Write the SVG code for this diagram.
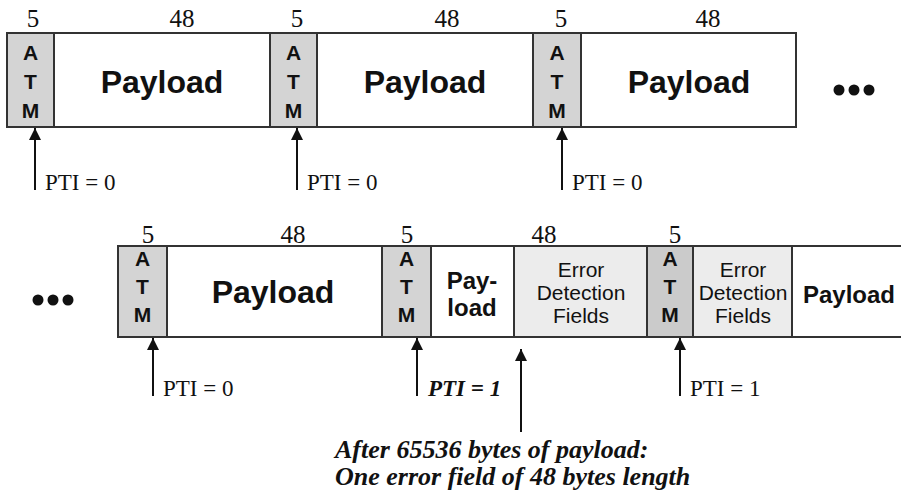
<svg xmlns="http://www.w3.org/2000/svg" width="901" height="491" viewBox="0 0 901 491">
  <defs>
    <marker id="head" viewBox="0 0 12 12" refX="12" refY="6" markerWidth="12" markerHeight="12" markerUnits="userSpaceOnUse" orient="auto">
      <path d="M0,0 L12,6 L0,12 Z" fill="#111"/>
    </marker>
    <style>
      .cell { stroke: #333; stroke-width: 2; }
      .atm { fill: #d4d4d4; }
      .atm2 { fill: #cbcbcb; }
      .pay { fill: #ffffff; }
      .err { fill: #ececec; }
      .num { font-family: "Liberation Serif", serif; font-size: 25px; fill: #111; text-anchor: middle; }
      .hdr { font-family: "Liberation Sans", Arial, sans-serif; font-weight: bold; font-size: 21px; fill: #111; text-anchor: middle; }
      .big { font-family: "Liberation Sans", Arial, sans-serif; font-weight: bold; font-size: 32px; fill: #111; text-anchor: middle; }
      .mid { font-family: "Liberation Sans", Arial, sans-serif; font-weight: bold; font-size: 24px; fill: #111; text-anchor: middle; }
      .efd { font-family: "Liberation Sans", Arial, sans-serif; font-size: 21px; fill: #111; text-anchor: middle; }
      .pti { font-family: "Liberation Serif", serif; font-size: 23px; fill: #111; }
      .ptib { font-family: "Liberation Serif", serif; font-size: 23px; font-weight: bold; font-style: italic; fill: #111; }
      .note { font-family: "Liberation Serif", serif; font-size: 26px; font-weight: bold; font-style: italic; fill: #111; }
      .arr { stroke: #111; stroke-width: 2; fill: none; marker-end: url(#head); }
      .dot { fill: #111; }
    </style>
  </defs>

  <!-- first stream of cells -->
  <g id="row1">
    <g id="r1-atm1">
      <rect class="cell atm" x="7" y="33" width="47" height="94"/>
      <text class="num" x="33" y="27">5</text>
      <text class="hdr" x="30.5" y="60">A</text>
      <text class="hdr" x="30.5" y="89">T</text>
      <text class="hdr" x="30.5" y="118">M</text>
    </g>
    <g id="r1-pay1">
      <rect class="cell pay" x="54" y="33" width="216" height="94"/>
      <text class="num" x="182" y="27">48</text>
      <text class="big" x="162" y="93">Payload</text>
    </g>
    <g id="r1-atm2">
      <rect class="cell atm" x="270" y="33" width="47" height="94"/>
      <text class="num" x="297" y="27">5</text>
      <text class="hdr" x="293.5" y="60">A</text>
      <text class="hdr" x="293.5" y="89">T</text>
      <text class="hdr" x="293.5" y="118">M</text>
    </g>
    <g id="r1-pay2">
      <rect class="cell pay" x="317" y="33" width="216" height="94"/>
      <text class="num" x="447" y="27">48</text>
      <text class="big" x="425" y="93">Payload</text>
    </g>
    <g id="r1-atm3">
      <rect class="cell atm" x="533" y="33" width="48" height="94"/>
      <text class="num" x="561" y="27">5</text>
      <text class="hdr" x="557" y="60">A</text>
      <text class="hdr" x="557" y="89">T</text>
      <text class="hdr" x="557" y="118">M</text>
    </g>
    <g id="r1-pay3">
      <rect class="cell pay" x="581" y="33" width="215" height="94"/>
      <text class="num" x="708" y="27">48</text>
      <text class="big" x="689" y="93">Payload</text>
    </g>
    <g id="r1-more">
      <circle class="dot" cx="839" cy="90" r="5.5"/>
      <circle class="dot" cx="854" cy="90" r="5.5"/>
      <circle class="dot" cx="869" cy="90" r="5.5"/>
    </g>
  </g>

  <!-- second stream of cells -->
  <g id="row2">
    <g id="r2-more">
      <circle class="dot" cx="38" cy="300" r="5.5"/>
      <circle class="dot" cx="53" cy="300" r="5.5"/>
      <circle class="dot" cx="68" cy="300" r="5.5"/>
    </g>
    <g id="r2-atm1">
      <rect class="cell atm" x="118" y="246" width="49" height="91"/>
      <text class="num" x="148" y="243">5</text>
      <text class="hdr" x="142.5" y="266">A</text>
      <text class="hdr" x="142.5" y="294">T</text>
      <text class="hdr" x="142.5" y="322">M</text>
    </g>
    <g id="r2-pay1">
      <rect class="cell pay" x="167" y="246" width="215" height="91"/>
      <text class="num" x="293" y="243">48</text>
      <text class="big" x="273" y="303">Payload</text>
    </g>
    <g id="r2-atm2">
      <rect class="cell atm" x="382" y="246" width="49" height="91"/>
      <text class="num" x="407" y="243">5</text>
      <text class="hdr" x="406.5" y="266">A</text>
      <text class="hdr" x="406.5" y="294">T</text>
      <text class="hdr" x="406.5" y="322">M</text>
    </g>
    <g id="r2-pay2">
      <rect class="cell pay" x="431" y="246" width="83" height="91"/>
      <text class="mid" x="472" y="289">Pay-</text>
      <text class="mid" x="472" y="316">load</text>
    </g>
    <g id="r2-err1">
      <rect class="cell err" x="514" y="246" width="133" height="91"/>
      <text class="num" x="544" y="243">48</text>
      <text class="efd" x="581" y="277">Error</text>
      <text class="efd" x="581" y="300">Detection</text>
      <text class="efd" x="581" y="323">Fields</text>
    </g>
    <g id="r2-atm3">
      <rect class="cell atm2" x="647" y="246" width="46" height="91"/>
      <text class="num" x="675" y="243">5</text>
      <text class="hdr" x="670" y="266">A</text>
      <text class="hdr" x="670" y="294">T</text>
      <text class="hdr" x="670" y="322">M</text>
    </g>
    <g id="r2-err2">
      <rect class="cell err" x="693" y="246" width="99" height="91"/>
      <text class="efd" x="743" y="277">Error</text>
      <text class="efd" x="743" y="300">Detection</text>
      <text class="efd" x="743" y="323">Fields</text>
    </g>
    <g id="r2-pay3">
      <rect class="cell pay" x="792" y="246" width="110" height="91"/>
      <text class="mid" x="849" y="303">Payload</text>
    </g>
  </g>

  <!-- pointers to header cells and the error field -->
  <g id="connectors">
    <line class="arr" x1="35" y1="190" x2="35" y2="128"/>
    <line class="arr" x1="297" y1="190" x2="297" y2="128"/>
    <line class="arr" x1="562" y1="190" x2="562" y2="128"/>
    <line class="arr" x1="153" y1="396" x2="153" y2="338"/>
    <line class="arr" x1="417" y1="396" x2="417" y2="338"/>
    <line class="arr" x1="521" y1="432" x2="521" y2="349"/>
    <line class="arr" x1="680" y1="396" x2="680" y2="338"/>
  </g>

  <g id="labels">
    <text class="pti" x="45" y="190">PTI = 0</text>
    <text class="pti" x="307" y="190">PTI = 0</text>
    <text class="pti" x="572" y="190">PTI = 0</text>
    <text class="pti" x="163" y="396">PTI = 0</text>
    <text class="ptib" x="428" y="396">PTI = 1</text>
    <text class="pti" x="690" y="396">PTI = 1</text>
    <text class="note" x="335" y="458">After 65536 bytes of payload:</text>
    <text class="note" x="335" y="485">One error field of 48 bytes length</text>
  </g>
</svg>
